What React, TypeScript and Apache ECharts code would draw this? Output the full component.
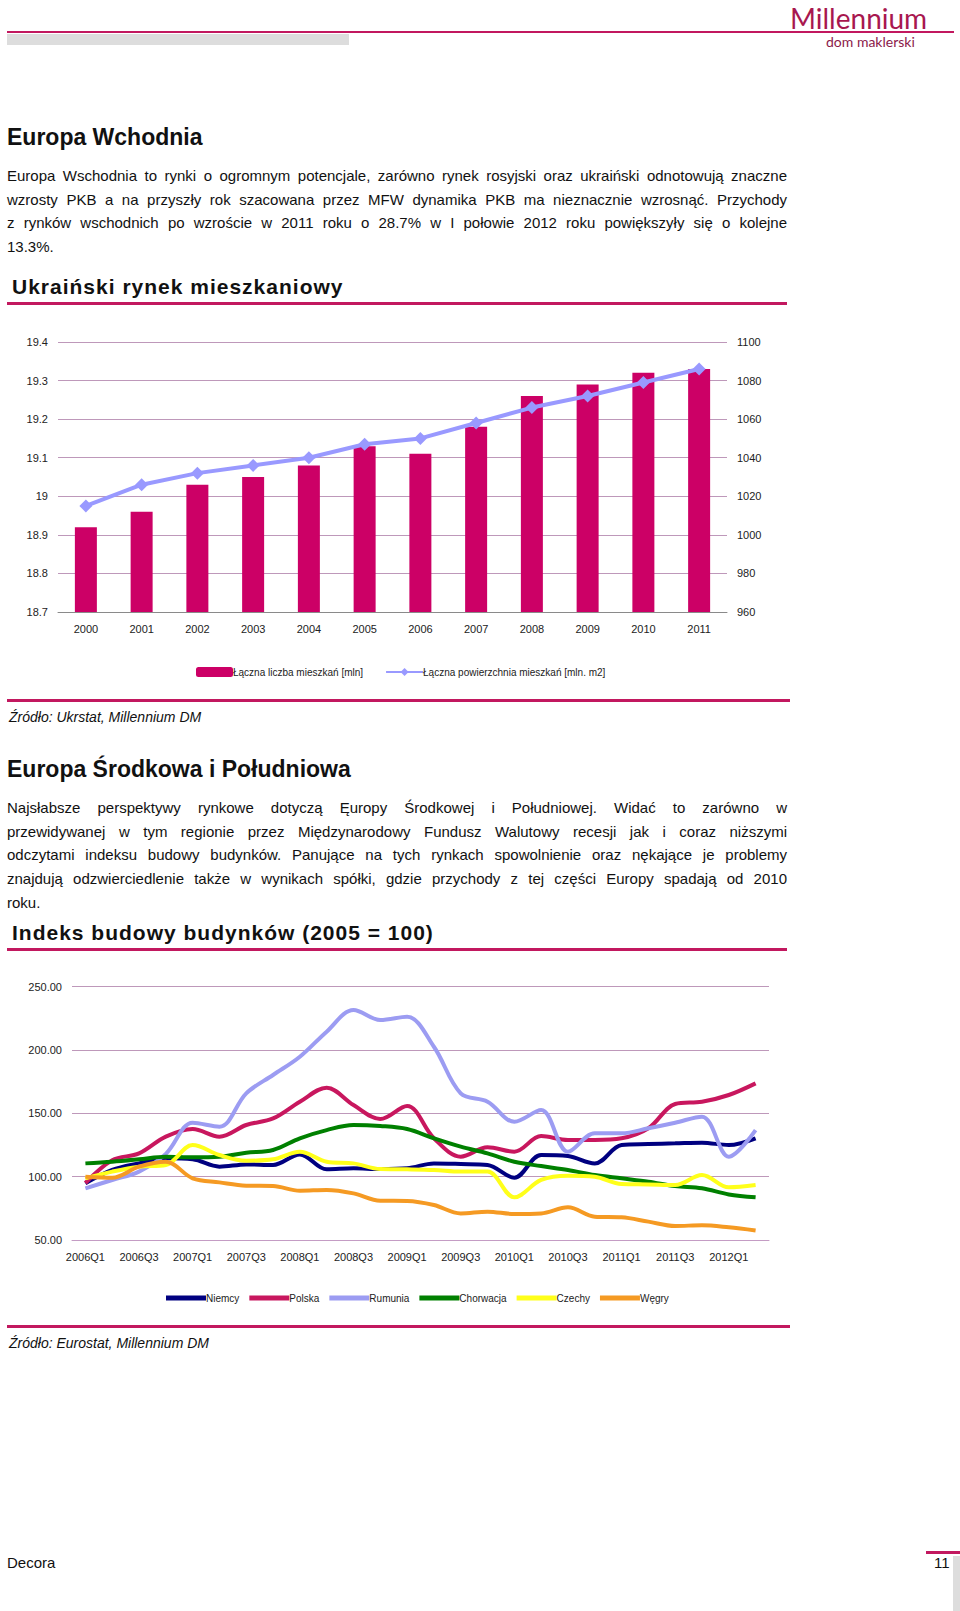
import React, { useEffect, useRef } from "react";
import * as echarts from "echarts";

// ---- Chart 1: Ukraiński rynek mieszkaniowy ----
const years = ["2000", "2001", "2002", "2003", "2004", "2005", "2006", "2007", "2008", "2009", "2010", "2011"];
const dwellingsMln = [18.92, 18.96, 19.03, 19.05, 19.08, 19.13, 19.11, 19.18, 19.26, 19.29, 19.32, 19.33];
const floorAreaMlnM2 = [1015, 1026, 1032, 1036, 1040, 1047, 1050, 1058, 1066, 1072, 1079, 1086];
const chart1Names = ["Łączna liczba mieszkań [mln]", "Łączna powierzchnia mieszkań [mln. m2]"];

// ---- Chart 2: Indeks budowy budynków (2005 = 100) ----
const quarters = [
  "2006Q1", "2006Q2", "2006Q3", "2006Q4", "2007Q1", "2007Q2", "2007Q3", "2007Q4",
  "2008Q1", "2008Q2", "2008Q3", "2008Q4", "2009Q1", "2009Q2", "2009Q3", "2009Q4",
  "2010Q1", "2010Q2", "2010Q3", "2010Q4", "2011Q1", "2011Q2", "2011Q3", "2011Q4",
  "2012Q1", "2012Q2",
];
const niemcy = [94.7, 105.3, 110.5, 114.5, 113.7, 107.9, 109.7, 109.2, 117.6, 105.8, 106.6, 106, 106.6, 110.5, 110, 109.2, 99.2, 117.1, 116.3, 110.5, 125, 125.8, 126.3, 126.8, 125, 130.3];
const polska = [95, 113, 118.4, 131.6, 137.6, 131.6, 140.8, 146, 159.2, 170.3, 156.6, 145.5, 155.8, 130.3, 115.8, 123.2, 119.7, 132.1, 129, 129, 130.3, 138.2, 157.4, 159.2, 164.5, 173.7];
const rumunia = [90.8, 97.4, 104, 118, 142.6, 139.5, 165.8, 180.3, 194.7, 214.5, 231.6, 223.7, 226.3, 202.6, 165.8, 159.2, 143.4, 152.6, 119.7, 134.2, 134.2, 138.2, 142.6, 147.4, 115.8, 136.8];
const chorwacja = [110.5, 111.8, 113.7, 115.8, 115.3, 115.8, 118.9, 121.1, 130.3, 136.8, 140.8, 140, 137.6, 130.3, 123.7, 118.4, 111.8, 108.4, 105.3, 101.3, 98.7, 96.1, 92.6, 90.8, 86, 83.7];
const czechy = [98.7, 104, 107.9, 109.2, 125, 117.1, 112.6, 113.7, 119.7, 111.8, 110.5, 106, 105.8, 105.3, 104, 104, 83.7, 97.4, 100.8, 100, 94.2, 93.9, 93.4, 101.3, 91.6, 93.4];
const wegry = [100, 99.2, 107.9, 111.8, 98.7, 95.5, 92.9, 92.6, 88.9, 89.5, 86.8, 81, 80.8, 77.6, 71, 72.4, 70.5, 71, 75.8, 68.4, 67.9, 64.5, 61.1, 61.6, 60, 57.5];
const countryNames = ["Niemcy", "Polska", "Rumunia", "Chorwacja", "Czechy", "Węgry"];
const countryValues = [niemcy, polska, rumunia, chorwacja, czechy, wegry];
const countryColors = ["#000080", "#C8175E", "#9C9CF2", "#008000", "#FFFF1A", "#F59A23"];

// ---- Prose ----
const para1 = [
  "Europa Wschodnia to rynki o ogromnym potencjale, zarówno rynek rosyjski oraz ukraiński odnotowują znaczne",
  "wzrosty PKB a na przyszły rok szacowana przez MFW dynamika PKB ma nieznacznie wzrosnąć. Przychody",
  "z rynków wschodnich po wzroście w 2011 roku o 28.7% w I połowie 2012 roku powiększyły się o kolejne",
  "13.3%.",
];
const para2 = [
  "Najsłabsze perspektywy rynkowe dotyczą Ęuropy Środkowej i Południowej. Widać to zarówno w",
  "przewidywanej w tym regionie przez Międzynarodowy Fundusz Walutowy recesji jak i coraz niższymi",
  "odczytami indeksu budowy budynków. Panujące na tych rynkach spowolnienie oraz nękające je problemy",
  "znajdują odzwierciedlenie także w wynikach spółki, gdzie przychody z tej części Europy spadają od 2010",
  "roku.",
];

const FONT = "'Liberation Sans', Arial, sans-serif";
const CRIMSON = "#C2185F";

const abs = (s: React.CSSProperties): React.CSSProperties => ({ position: "absolute", ...s });

function Para({ lines, top, step }: { lines: string[]; top: number; step: number }) {
  return (
    <>
      {lines.map((l, i) => (
        <div
          key={i}
          style={abs({
            left: 7,
            width: 780,
            top: top + i * step - 12,
            height: 24,
            lineHeight: "24px",
            fontSize: 15,
            color: "#111",
            textAlign: i === lines.length - 1 ? "left" : "justify",
            textAlignLast: i === lines.length - 1 ? "left" : "justify",
            overflow: "visible",
          })}
        >
          {l}
        </div>
      ))}
    </>
  );
}

export default function App() {
  const ref = useRef<HTMLDivElement>(null);

  useEffect(() => {
    document.body.style.margin = "0";
    const chart = echarts.init(ref.current!, null, { renderer: "svg" });
    const axisLbl = { fontSize: 11, color: "#222", fontFamily: FONT };
    chart.setOption({
      animation: false,
      textStyle: { fontFamily: FONT },
      grid: [
        { left: 58, top: 342, width: 669, height: 270 },
        { left: 72, top: 986.7, width: 697, height: 253.3 },
      ],
      legend: [
        {
          data: chart1Names,
          left: 191,
          top: 662,
          itemWidth: 37,
          itemHeight: 10,
          itemGap: 22,
          textStyle: { fontSize: 10, color: "#222", padding: [0, 0, 0, -5] },
        },
        {
          data: countryNames.map((n) => ({ name: n, icon: "rect" })),
          left: 161,
          top: 1288,
          itemWidth: 40,
          itemHeight: 5,
          itemGap: 10,
          textStyle: { fontSize: 10, color: "#222", padding: [0, 0, 0, -5] },
        },
      ],
      xAxis: [
        {
          gridIndex: 0,
          type: "category",
          data: years,
          axisLine: { lineStyle: { color: "#8a8a8a" } },
          axisTick: { length: 5, lineStyle: { color: "#8a8a8a" } },
          axisLabel: { ...axisLbl, margin: 11 },
        },
        {
          gridIndex: 1,
          type: "category",
          data: quarters,
          axisLine: { lineStyle: { color: "#C49CC4" } },
          axisTick: { interval: 0, length: 5, lineStyle: { color: "#C49CC4" } },
          axisLabel: { ...axisLbl, interval: 1, margin: 11 },
        },
      ],
      yAxis: [
        {
          gridIndex: 0,
          type: "value",
          min: 18.7,
          max: 19.4,
          interval: 0.1,
          axisLine: { show: false },
          axisTick: { show: false },
          splitLine: { lineStyle: { color: "#BE98BA" } },
          axisLabel: { ...axisLbl, margin: 10, formatter: (v: number) => String(parseFloat(v.toFixed(1))) },
        },
        {
          gridIndex: 0,
          type: "value",
          position: "right",
          min: 960,
          max: 1100,
          interval: 20,
          axisLine: { show: false },
          axisTick: { show: false },
          splitLine: { show: false },
          axisLabel: { ...axisLbl, margin: 10, formatter: (v: number) => String(Math.round(v)) },
        },
        {
          gridIndex: 1,
          type: "value",
          min: 50,
          max: 250,
          interval: 50,
          axisLine: { show: false },
          axisTick: { show: false },
          splitLine: { lineStyle: { color: "#BE98BA" } },
          axisLabel: { ...axisLbl, margin: 10, formatter: (v: number) => v.toFixed(2) },
        },
      ],
      series: [
        {
          name: chart1Names[0],
          type: "bar",
          xAxisIndex: 0,
          yAxisIndex: 0,
          data: dwellingsMln,
          barWidth: 22,
          itemStyle: { color: "#CC0066" },
        },
        {
          name: chart1Names[1],
          type: "line",
          xAxisIndex: 0,
          yAxisIndex: 1,
          data: floorAreaMlnM2,
          symbol: "diamond",
          symbolSize: 13,
          itemStyle: { color: "#9999FF" },
          lineStyle: { color: "#9999FF", width: 4 },
          z: 5,
        },
        ...countryNames.map((n, i) => ({
          name: n,
          type: "line",
          xAxisIndex: 1,
          yAxisIndex: 2,
          data: countryValues[i],
          smooth: 0.35,
          symbol: "none",
          itemStyle: { color: countryColors[i] },
          lineStyle: { color: countryColors[i], width: 4 },
        })),
      ],
    });
    return () => chart.dispose();
  }, []);

  return (
    <div style={{ position: "relative", width: 960, height: 1611, fontFamily: FONT, background: "#fff", overflow: "hidden" }}>
      <div ref={ref} style={abs({ left: 0, top: 0, width: 960, height: 1611 })} />

      {/* Header */}
      <div style={abs({ left: 790, top: 3, fontFamily: "Lato, 'Open Sans', sans-serif", fontSize: 28, lineHeight: "30px", color: "#A8174F" })}>
        Millennium
      </div>
      <div style={abs({ left: 7, top: 31, width: 947, height: 2, background: CRIMSON })} />
      <div style={abs({ left: 7, top: 34, width: 342, height: 11, background: "#DDDDDD" })} />
      <div style={abs({ left: 826, top: 34, fontFamily: "Lato, 'Open Sans', sans-serif", fontSize: 14, lineHeight: "16px", color: "#8B1A4A" })}>
        dom maklerski
      </div>

      {/* Section 1 */}
      <div style={abs({ left: 7, top: 124, fontSize: 23, fontWeight: "bold", lineHeight: "26px", color: "#111" })}>Europa Wchodnia</div>
      <Para lines={para1} top={176} step={23.7} />
      <div style={abs({ left: 12, top: 274, fontSize: 21, fontWeight: "bold", letterSpacing: 1, lineHeight: "26px", color: "#111" })}>
        Ukraiński rynek mieszkaniowy
      </div>
      <div style={abs({ left: 7, top: 302, width: 780, height: 3, background: CRIMSON })} />

      <div style={abs({ left: 7, top: 699, width: 783, height: 3, background: CRIMSON })} />
      <div style={abs({ left: 9, top: 708, fontSize: 14, fontStyle: "italic", lineHeight: "18px", color: "#111" })}>
        Źródło: Ukrstat, Millennium DM
      </div>

      {/* Section 2 */}
      <div style={abs({ left: 7, top: 756, fontSize: 23, fontWeight: "bold", lineHeight: "26px", color: "#111" })}>
        Europa Środkowa i Południowa
      </div>
      <Para lines={para2} top={808} step={23.7} />
      <div style={abs({ left: 12, top: 920, fontSize: 21, fontWeight: "bold", letterSpacing: 1, lineHeight: "26px", color: "#111" })}>
        Indeks budowy budynków (2005 = 100)
      </div>
      <div style={abs({ left: 7, top: 948, width: 780, height: 3, background: CRIMSON })} />

      <div style={abs({ left: 7, top: 1325, width: 783, height: 3, background: CRIMSON })} />
      <div style={abs({ left: 9, top: 1334, fontSize: 14, fontStyle: "italic", lineHeight: "18px", color: "#111" })}>
        Źródło: Eurostat, Millennium DM
      </div>

      {/* Footer */}
      <div style={abs({ left: 7, top: 1554, fontSize: 15, lineHeight: "18px", color: "#111" })}>Decora</div>
      <div style={abs({ left: 926, top: 1551, width: 34, height: 3, background: CRIMSON })} />
      <div style={abs({ left: 953, top: 1556, width: 7, height: 55, background: "#DDDDDD" })} />
      <div style={abs({ left: 934, top: 1554, fontSize: 15, lineHeight: "18px", color: "#111" })}>11</div>
    </div>
  );
}
